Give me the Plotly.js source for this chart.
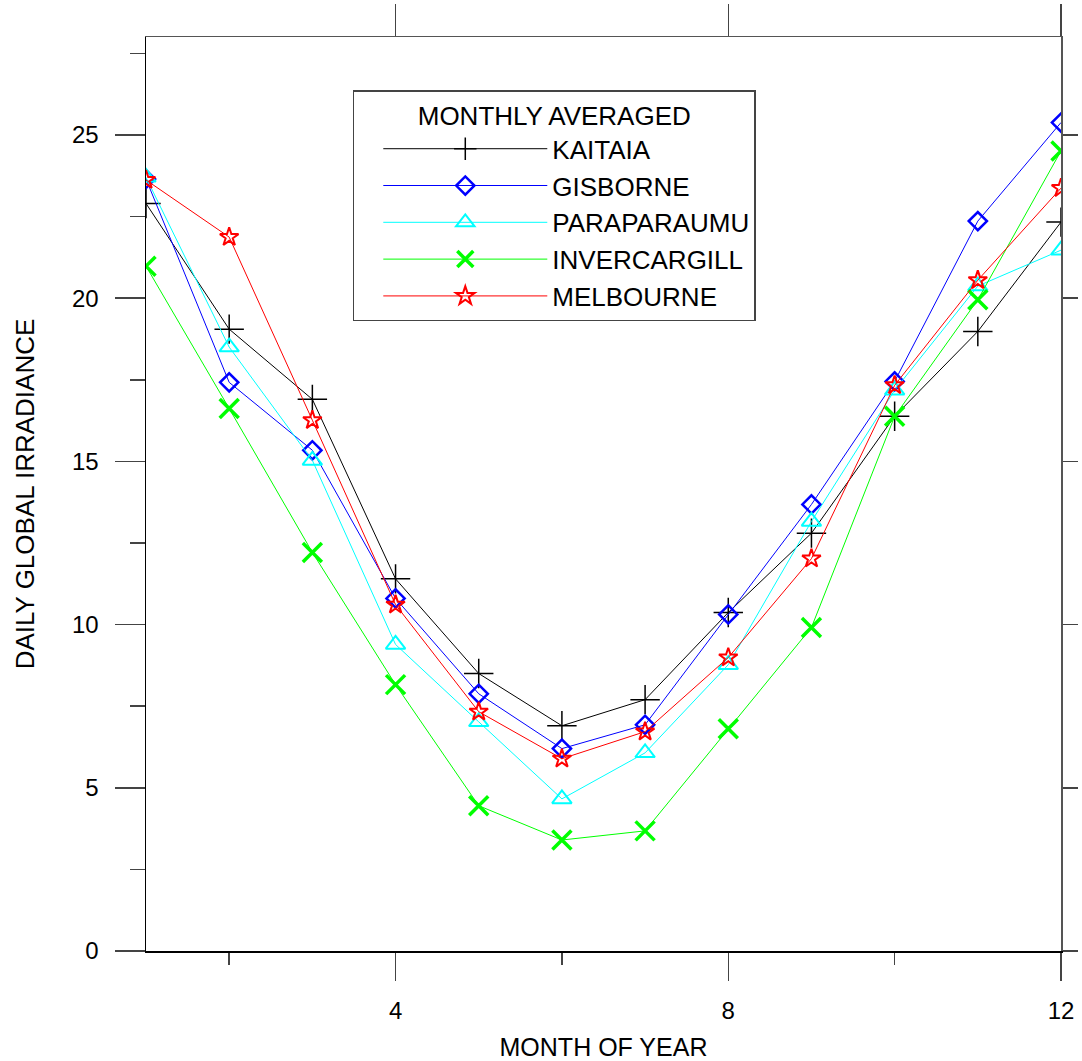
<!DOCTYPE html>
<html>
<head>
<meta charset="utf-8">
<script src="https://cdn.plot.ly/plotly-3.0.1.min.js"></script>
<style>
  html, body { margin: 0; padding: 0; background: #fff; }
  #chart { width: 1082px; height: 1061px; }
</style>
</head>
<body>
<div id="chart"></div>
<script>
// Monthly averaged daily global irradiance for five stations
const months = [1, 2, 3, 4, 5, 6, 7, 8, 9, 10, 11, 12];

const kaitaia      = [22.9, 19.05, 16.9, 11.4, 8.5, 6.9, 7.7, 10.37, 12.8, 16.38, 18.98, 22.33];
const gisborne     = [23.65, 17.42, 15.34, 10.8, 7.88, 6.2, 6.93, 10.31, 13.68, 17.45, 22.36, 25.38];
const paraparaumu  = [23.7, 18.5, 15.03, 9.39, 7.02, 4.66, 6.07, 8.77, 13.16, 17.18, 20.37, 21.47];
const invercargill = [20.98, 16.62, 12.21, 8.16, 4.45, 3.4, 3.68, 6.81, 9.91, 16.38, 19.95, 24.51];
const melbourne    = [23.62, 21.87, 16.26, 10.61, 7.33, 5.89, 6.72, 8.99, 12.02, 17.33, 20.55, 23.37];

const seriesNames = ['KAITAIA', 'GISBORNE', 'PARAPARAUMU', 'INVERCARGILL', 'MELBOURNE'];
const xTickVals = [4, 8, 12];

const FONT = 'Liberation Sans, Arial, sans-serif';

function station(name, values, color, symbol, size, mlw) {
  return {
    type: 'scatter',
    mode: 'lines+markers',
    name: name,
    x: months,
    y: values,
    legendgroup: name,
    line: { color: color, width: 1 },
    marker: {
      symbol: symbol,
      size: size,
      color: color,
      line: { color: color, width: mlw }
    },
    hoverinfo: 'x+y+name'
  };
}

const traces = [
  station(seriesNames[0], kaitaia, '#000000', 'cross-thin-open', 21, 1.5),
  station(seriesNames[1], gisborne, '#0000ff', 'diamond-open', 14, 2.5),
  station(seriesNames[2], paraparaumu, '#00ffff', 'triangle-up-open', 17, 2),
  station(seriesNames[3], invercargill, '#00ff00', 'x-thin-open', 19, 3.5),
  station(seriesNames[4], melbourne, '#ff0000', 'star-open', 14, 2),
  // carrier for the mirrored top / right frame axes
  { type: 'scatter', x: [], y: [], xaxis: 'x2', yaxis: 'y2', showlegend: false, hoverinfo: 'skip' }
];

const layout = {
  width: 1082,
  height: 1061,
  paper_bgcolor: '#ffffff',
  plot_bgcolor: '#ffffff',
  font: { family: FONT, size: 24, color: '#000000' },
  margin: { l: 146, r: 21, t: 37, b: 110, pad: 0 },
  showlegend: true,
  legend: {
    x: 0.226, y: 0.942, xanchor: 'left', yanchor: 'top',
    bgcolor: '#ffffff',
    bordercolor: '#444444',
    borderwidth: 1.5,
    font: { family: FONT, size: 26, color: '#000000' },
    indentation: 24,
    itemwidth: 164,
    tracegroupgap: 0,
    title: { text: 'MONTHLY AVERAGED', side: 'top center', font: { family: FONT, size: 26 } }
  },
  xaxis: {
    range: [1, 12],
    tickmode: 'array',
    tickvals: xTickVals,
    ticktext: xTickVals.map(String),
    ticks: 'outside',
    ticklen: 28,
    tickwidth: 1.5,
    tickcolor: '#444444',
    ticklabelstandoff: 10,
    minor: { tickmode: 'linear', tick0: 0, dtick: 2, ticks: 'outside', ticklen: 12, tickwidth: 1.5, tickcolor: '#444444' },
    showline: true,
    linecolor: '#000000',
    linewidth: 1.5,
    showgrid: false,
    zeroline: false,
    tickfont: { family: FONT, size: 24 },
    title: { text: 'MONTH OF YEAR', font: { family: FONT, size: 25 }, standoff: 18 }
  },
  yaxis: {
    range: [0, 28],
    tick0: 0,
    dtick: 5,
    ticks: 'outside',
    ticklen: 30,
    tickwidth: 1.5,
    tickcolor: '#444444',
    ticklabelstandoff: 11,
    minor: { tick0: 0, dtick: 2.5, ticks: 'outside', ticklen: 15, tickwidth: 1.5, tickcolor: '#444444' },
    showline: true,
    linecolor: '#000000',
    linewidth: 1.5,
    showgrid: false,
    zeroline: false,
    tickfont: { family: FONT, size: 24 },
    title: { text: 'DAILY GLOBAL IRRADIANCE', font: { family: FONT, size: 26 }, standoff: 30 }
  },
  xaxis2: {
    overlaying: 'x',
    side: 'top',
    anchor: 'y2',
    range: [1, 12],
    tickmode: 'array',
    tickvals: xTickVals,
    ticks: 'outside',
    ticklen: 32,
    tickwidth: 1.5,
    tickcolor: '#444444',
    showticklabels: false,
    showline: true,
    linecolor: '#555555',
    linewidth: 1.5,
    showgrid: false,
    zeroline: false
  },
  yaxis2: {
    overlaying: 'y',
    side: 'right',
    anchor: 'x2',
    range: [0, 28],
    tick0: 0,
    dtick: 5,
    ticks: 'outside',
    ticklen: 15,
    tickwidth: 1.5,
    tickcolor: '#444444',
    showticklabels: false,
    showline: true,
    linecolor: '#555555',
    linewidth: 1.5,
    showgrid: false,
    zeroline: false
  }
};

Plotly.newPlot('chart', traces, layout, { displayModeBar: false, staticPlot: true });
</script>
</body>
</html>
